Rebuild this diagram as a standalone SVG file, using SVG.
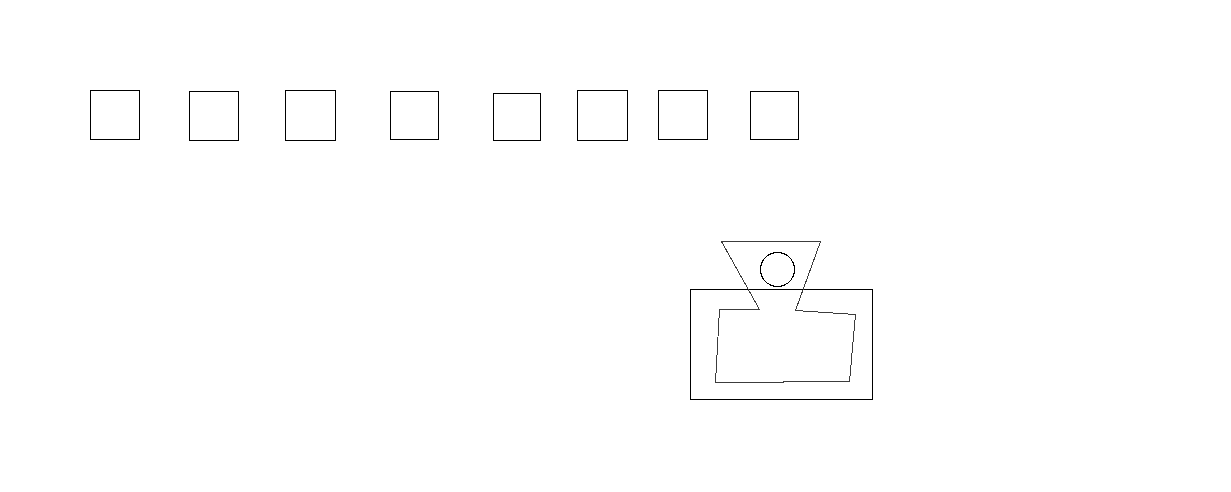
<svg xmlns="http://www.w3.org/2000/svg" width="1231" height="492" viewBox="0 0 1231 492">
<style>
.s{fill:none;stroke:#000;stroke-width:1}
.c{shape-rendering:crispEdges}
.o{fill:none;stroke:#3c3c3c;stroke-width:1;shape-rendering:crispEdges}
</style>
<rect width="1231" height="492" fill="#fff"/>
<g id="square-1"><rect class="s" x="90.5" y="90.5" width="49" height="49"/></g>
<g id="square-2"><rect class="s" x="189.5" y="91.5" width="49" height="49"/></g>
<g id="square-3"><rect class="s" x="285.5" y="90.5" width="50" height="50"/></g>
<g id="square-4"><rect class="s" x="390.5" y="91.5" width="48" height="48"/></g>
<g id="square-5"><rect class="s" x="493.5" y="93.5" width="47" height="47"/></g>
<g id="square-6"><rect class="s" x="577.5" y="90.5" width="50" height="50"/></g>
<g id="square-7"><rect class="s" x="658.5" y="90.5" width="49" height="49"/></g>
<g id="square-8"><rect class="s" x="750.5" y="91.5" width="48" height="48"/></g>
<g id="frame"><rect class="s" x="690.5" y="289.5" width="182" height="110"/></g>
<g id="outline"><polygon class="o" points="721.5,241.5 820.5,241.5 795.5,310.5 855.5,314.5 849.5,381.5 783,381.5 783,382.5 715.5,382.5 719.5,309.5 759.5,309.5"/></g>
<g id="circle"><circle class="s c" cx="777.5" cy="269.5" r="17"/></g>
<g id="connectors"></g>
</svg>
